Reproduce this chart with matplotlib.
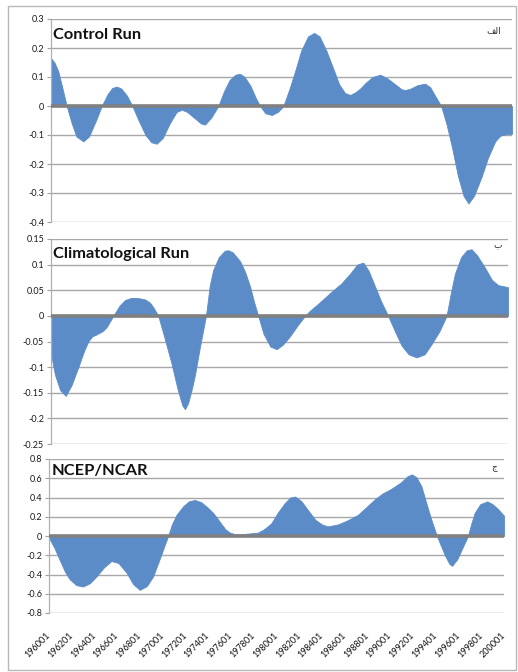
import matplotlib
matplotlib.use("Agg")
import matplotlib.pyplot as plt
from matplotlib.patches import Rectangle

W, H = 518, 672

# values (year, anomaly)
ctrl_year = [1960.0, 1960.3, 1960.63, 1961.0, 1961.36, 1961.8, 1962.2, 1962.8, 1963.3, 1963.9,
             1964.4, 1964.9, 1965.3, 1965.7, 1966.1, 1966.6, 1967.06, 1967.6, 1968.2, 1968.7,
             1969.17, 1969.7, 1970.3, 1970.91, 1971.35, 1971.8, 1972.4, 1973.0, 1973.37, 1973.9,
             1974.52, 1975.0, 1975.5, 1976.0, 1976.4, 1976.8, 1977.3, 1977.8, 1978.14, 1978.6,
             1979.16, 1979.7, 1980.16, 1980.7, 1981.18, 1981.7, 1982.3, 1982.83, 1983.3, 1983.9,
             1984.48, 1985.0, 1985.5, 1985.95, 1986.4, 1986.82, 1987.3, 1987.9, 1988.56, 1989.2,
             1989.86, 1990.4, 1990.73, 1991.2, 1991.8, 1992.46, 1992.9, 1993.33, 1993.85, 1994.3,
             1994.78, 1995.3, 1995.8, 1996.22, 1996.7, 1997.38, 1997.9, 1998.54, 1999.0, 1999.5,
             2000.0]
ctrl_val = [0.165, 0.15, 0.12, 0.06, 0.0, -0.06, -0.105, -0.122, -0.105, -0.05,
            0.0, 0.04, 0.062, 0.067, 0.06, 0.035, 0.0, -0.05, -0.1, -0.125,
            -0.13, -0.11, -0.06, -0.02, -0.013, -0.02, -0.04, -0.06, -0.064, -0.04,
            0.0, 0.05, 0.09, 0.108, 0.111, 0.1, 0.07, 0.025, 0.0, -0.025,
            -0.031, -0.02, 0.0, 0.06, 0.12, 0.19, 0.24, 0.252, 0.24, 0.19,
            0.13, 0.075, 0.045, 0.038, 0.047, 0.06, 0.08, 0.1, 0.108, 0.095,
            0.075, 0.058, 0.055, 0.06, 0.072, 0.077, 0.065, 0.035, 0.0, -0.06,
            -0.14, -0.24, -0.31, -0.336, -0.31, -0.242, -0.18, -0.122, -0.102, -0.097,
            -0.096]

clim_year = [1960.0, 1960.35, 1960.8, 1961.29, 1961.8, 1962.39, 1962.9, 1963.26, 1963.6, 1964.0,
             1964.5, 1964.87, 1965.45, 1966.0, 1966.48, 1967.0, 1967.6, 1968.23, 1968.65, 1968.95,
             1969.39, 1969.9, 1970.56, 1971.1, 1971.5, 1971.73, 1972.0, 1972.3, 1972.6, 1973.04,
             1973.56, 1973.9, 1974.2, 1974.7, 1975.2, 1975.51, 1975.9, 1976.54, 1977.0, 1977.41,
             1977.8, 1978.14, 1978.6, 1979.2, 1979.75, 1980.3, 1980.91, 1981.6, 1982.23, 1982.66,
             1983.3, 1984.0, 1984.7, 1985.4, 1986.2, 1986.8, 1987.33, 1987.8, 1988.35, 1988.9,
             1989.51, 1990.1, 1990.69, 1991.3, 1992.0, 1992.7, 1993.31, 1994.0, 1994.62, 1995.0,
             1995.35, 1995.9, 1996.4, 1996.81, 1997.3, 1997.98, 1998.6, 1999.14, 2000.0]
clim_val = [-0.075, -0.115, -0.145, -0.156, -0.135, -0.1, -0.068, -0.05, -0.04, -0.036,
            -0.03, -0.022, 0.0, 0.02, 0.031, 0.035, 0.035, 0.032, 0.026, 0.017,
            0.0, -0.04, -0.094, -0.145, -0.175, -0.182, -0.17, -0.145, -0.115, -0.06,
            0.0, 0.06, 0.09, 0.115, 0.127, 0.128, 0.124, 0.107, 0.085, 0.058,
            0.025, 0.0, -0.035, -0.06, -0.065, -0.056, -0.04, -0.018, 0.0, 0.01,
            0.022, 0.036, 0.05, 0.063, 0.083, 0.1, 0.104, 0.088, 0.058, 0.028,
            0.0, -0.03, -0.058, -0.075, -0.081, -0.075, -0.055, -0.03, 0.0, 0.045,
            0.082, 0.115, 0.128, 0.13, 0.118, 0.094, 0.07, 0.06, 0.056]

ncep_year = [1960.0, 1960.5, 1960.94, 1961.4, 1961.82, 1962.4, 1962.99, 1963.6, 1964.17, 1964.8,
             1965.49, 1966.1, 1966.81, 1967.4, 1967.98, 1968.6, 1969.15, 1969.6, 1970.03, 1970.47,
             1970.8, 1971.21, 1971.8, 1972.3, 1972.82, 1973.4, 1974.0, 1974.43, 1975.0, 1975.5,
             1975.9, 1976.4, 1976.78, 1977.5, 1978.36, 1978.9, 1979.53, 1980.1, 1980.71, 1981.2,
             1981.64, 1982.2, 1982.76, 1983.4, 1984.0, 1984.52, 1985.4, 1986.28, 1987.16, 1987.9,
             1988.63, 1989.3, 1990.09, 1990.97, 1991.5, 1991.91, 1992.3, 1992.73, 1993.2, 1993.61,
             1994.1, 1994.8, 1995.2, 1995.43, 1995.9, 1996.24, 1996.83, 1997.1, 1997.42, 1997.9,
             1998.53, 1999.0, 1999.47, 2000.0]
ncep_val = [-0.02, -0.13, -0.25, -0.37, -0.45, -0.51, -0.525, -0.49, -0.42, -0.33,
            -0.26, -0.28, -0.38, -0.5, -0.56, -0.52, -0.42, -0.28, -0.14, 0.0,
            0.12, 0.22, 0.31, 0.36, 0.375, 0.35, 0.29, 0.24, 0.15, 0.07,
            0.035, 0.018, 0.017, 0.025, 0.035, 0.07, 0.13, 0.24, 0.34, 0.40,
            0.41, 0.36, 0.27, 0.17, 0.12, 0.10, 0.12, 0.165, 0.22, 0.3,
            0.38, 0.44, 0.49, 0.56, 0.62, 0.64, 0.61, 0.52, 0.33, 0.17,
            0.0, -0.2, -0.29, -0.31, -0.24, -0.15, 0.0, 0.12, 0.24, 0.33,
            0.36, 0.33, 0.28, 0.21]

titles = ["Control Run", "Climatological Run", "NCEP/NCAR"]
# panel letters alef, be, jim (presentation forms so they show joined, right to left)
letters = ["\ufed2\ufedf\ufe8d", "\u0628", "\u062c"]

ctrl_ticks = [0.3, 0.2, 0.1, 0.0, -0.1, -0.2, -0.3, -0.4]
ctrl_labels = ["0.3", "0.2", "0.1", "0", "-0.1", "-0.2", "-0.3", "-0.4"]
clim_ticks = [0.15, 0.1, 0.05, 0.0, -0.05, -0.1, -0.15, -0.2, -0.25]
clim_labels = ["0.15", "0.1", "0.05", "0", "-0.05", "-0.1", "-0.15", "-0.2", "-0.25"]
ncep_ticks = [0.8, 0.6, 0.4, 0.2, 0.0, -0.2, -0.4, -0.6, -0.8]
ncep_labels = ["0.8", "0.6", "0.4", "0.2", "0", "-0.2", "-0.4", "-0.6", "-0.8"]

x_ticks = list(range(1960, 2001, 2))
x_labels = ["196001", "196201", "196401", "196601", "196801", "197001", "197201",
            "197401", "197601", "197801", "198001", "198201", "198401", "198601",
            "198801", "199001", "199201", "199401", "199601", "199801", "200001"]

plt.rcParams['font.family'] = ['Lato', 'DejaVu Sans']

fill_color = "#5b8cc8"
grid_color = "#a8a8a8"
zero_color = "#808080"

fig = plt.figure(figsize=(W / 100, H / 100), dpi=100)
fig.patches.append(Rectangle((8 / W, 1 - 670 / H), 508 / W, 664 / H,
                             transform=fig.transFigure, fill=False,
                             edgecolor="#b8b8b8", lw=1.0))

# pixel boxes (left, top, right, bottom) of each plot area
boxes = [(51, 19, 512, 222), (51, 239, 508, 444), (49, 459, 504, 613)]
series = [(ctrl_year, ctrl_val, ctrl_ticks, ctrl_labels),
          (clim_year, clim_val, clim_ticks, clim_labels),
          (ncep_year, ncep_val, ncep_ticks, ncep_labels)]
title_pos = [(53, 39), (53, 258), (52, 475)]
letter_pos = [(494, 34), (498, 247), (494, 470)]

for i, (box, (xs, ys, yt, yl)) in enumerate(zip(boxes, series)):
    l, t, r, b = box
    ax = fig.add_axes([l / W, 1 - b / H, (r - l) / W, (b - t) / H])
    ax.fill_between(xs, ys, 0, color=fill_color, lw=0.6, edgecolor=fill_color, zorder=2)
    ax.axhline(0, color=zero_color, lw=2.6, zorder=3)

    ax.set_xlim(1960, 2000)
    ax.set_ylim(yt[-1], yt[0])
    ax.set_yticks(yt)
    ax.set_yticklabels(yl)
    ax.yaxis.grid(True, color=grid_color, lw=1.0)
    ax.set_axisbelow(True)
    ax.tick_params(axis="y", length=3, width=0.8, color="#a0a0a0", pad=2,
                   labelsize=6.5, labelcolor="#1a1a1a")

    for side in ["top", "right", "bottom"]:
        ax.spines[side].set_visible(False)
    ax.spines["left"].set_color("#b0b0b0")
    ax.spines["left"].set_linewidth(0.9)

    ax.set_xticks(x_ticks)
    if i == 2:
        ax.set_xticklabels(x_labels)
        ax.tick_params(axis="x", length=0, pad=15, labelsize=6.5, labelcolor="#111111")
        for lab in ax.get_xticklabels():
            lab.set_rotation(45)
            lab.set_ha("right")
            lab.set_va("center")
            lab.set_rotation_mode("anchor")
    else:
        ax.tick_params(axis="x", length=0, labelbottom=False)

    fig.text(title_pos[i][0] / W, 1 - title_pos[i][1] / H, titles[i],
             fontsize=11.8, fontweight="bold", color="#111111", va="baseline")
    fig.text(letter_pos[i][0] / W, 1 - letter_pos[i][1] / H, letters[i],
             fontsize=6.5, color="#333333", va="baseline", ha="center",
             family=["DejaVu Sans"])

fig.savefig("out.png", dpi=100)
